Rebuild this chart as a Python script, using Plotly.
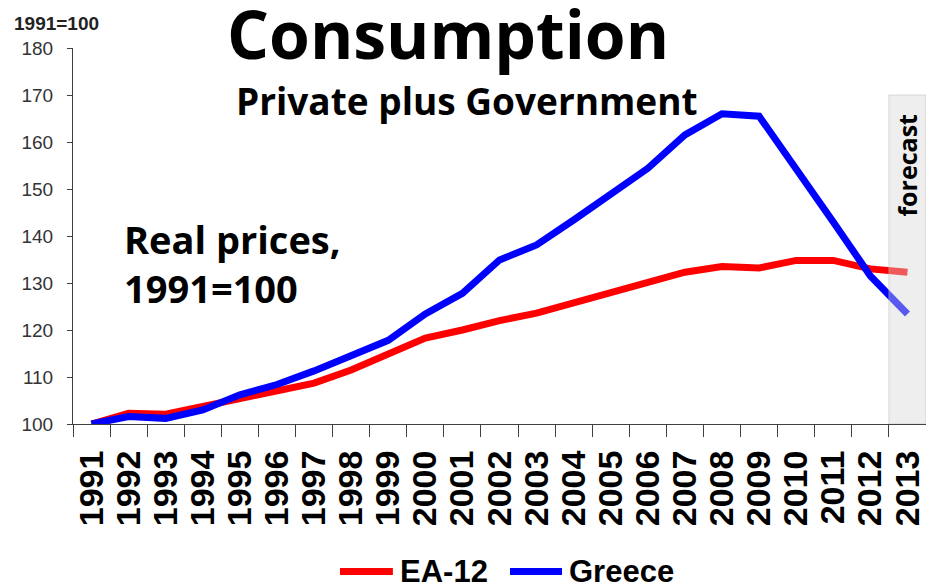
"""
plot.py — Consumption, private plus government (EA-12 vs Greece)
"""

import plotly.graph_objects as go

# ─────────────────────────────────────────────
# 数据
# ─────────────────────────────────────────────

years = [str(y) for y in range(1991, 2014)]

ea12 = [100.0, 102.3, 102.1, 103.7, 105.4, 106.9, 108.7, 111.5, 115.0, 118.3,
        120.0, 122.0, 123.6, 125.7, 127.8, 130.0, 132.3, 133.5, 133.2, 134.8,
        134.8, 133.0, 132.3]

greece = [100.0, 101.6, 101.2, 103.0, 106.2, 108.4, 111.3, 114.7, 117.8, 123.4,
          127.8, 134.9, 138.1, 143.4, 148.7, 154.4, 161.5, 166.0, 165.5, 154.5,
          143.0, 131.5, 123.4]

y_ticks = [100, 110, 120, 130, 140, 150, 160, 170, 180]

forecast_year = "2013"

series = [("EA-12", ea12, "#FF0000"), ("Greece", greece, "#0000FF")]

# ─────────────────────────────────────────────
# 图表
# ─────────────────────────────────────────────

BOLD_TXT = "Open Sans"
ARIAL = "Liberation Sans"

fig = go.Figure()

for name, vals, color in series:
    fig.add_trace(go.Scatter(
        x=years, y=vals, name=name, mode="lines",
        line=dict(color=color, width=7),
    ))

# forecast band (above lines, so they look faded)
idx = years.index(forecast_year)
fig.add_shape(
    type="rect", xref="x", yref="y",
    x0=idx - 0.5, x1=idx + 0.5, y0=100, y1=170,
    fillcolor="rgba(215,215,215,0.42)",
    line=dict(color="rgba(185,185,185,0.5)", width=1),
    layer="above",
)

fig.add_annotation(
    text="<b>forecast</b>", x=(idx + 0.5) / len(years), y=0.6885,
    xref="paper", yref="paper",
    textangle=-90, showarrow=False, xanchor="center", yanchor="middle",
    font=dict(family=BOLD_TXT, size=25, color="black"),
)

# titles
fig.add_annotation(
    text="<b>Consumption</b>", x=0.4396, y=1.04, xref="paper", yref="paper",
    xanchor="center", yanchor="middle", showarrow=False,
    font=dict(family=BOLD_TXT, size=66, color="black"),
)
fig.add_annotation(
    text="<b>Private plus Government</b>", x=0.4619, y=0.861,
    xref="paper", yref="paper", xanchor="center", yanchor="middle",
    showarrow=False,
    font=dict(family=BOLD_TXT, size=37, color="black"),
)
fig.add_annotation(
    text="<b>Real prices,</b><br><b>1991=100</b>", x=0.0574, y=0.428,
    xref="paper", yref="paper", xanchor="left", yanchor="middle",
    align="left", showarrow=False,
    font=dict(family=BOLD_TXT, size=38, color="black"),
)
fig.add_annotation(
    text="<b>1991=100</b>", x=-0.0715, y=1.066, xref="paper", yref="paper",
    xanchor="left", yanchor="middle", showarrow=False,
    font=dict(family=ARIAL, size=19, color="#222222"),
)

# legend drawn by hand (longer line samples than the built-in legend)
legend_pos = [(0.313, 0.375), (0.5123, 0.5733)]
for (name, _, color), (lx0, lx1) in zip(series, legend_pos):
    fig.add_shape(
        type="line", xref="paper", yref="paper",
        x0=lx0, x1=lx1, y0=-0.392, y1=-0.392,
        line=dict(color=color, width=7),
    )
    fig.add_annotation(
        text=f"<b>{name}</b>", x=lx1 + 0.006, y=-0.392,
        xref="paper", yref="paper", xanchor="left", yanchor="middle",
        showarrow=False,
        font=dict(family=ARIAL, size=31, color="black"),
    )

fig.update_layout(
    width=926, height=588,
    margin=dict(l=73, r=0, t=48, b=164),
    plot_bgcolor="white", paper_bgcolor="white",
    showlegend=False,
)

fig.update_xaxes(
    type="category", tickson="boundaries", automargin=False,
    tickmode="array", tickvals=years, ticktext=years,
    showgrid=False, showline=True, linecolor="#404040", linewidth=1,
    ticks="outside", ticklen=12, tickcolor="#404040",
    tickangle=-90, ticklabelstandoff=12,
    tickfont=dict(family=ARIAL, size=34, color="black", weight="bold"),
    range=[-0.5, len(years) - 0.5],
)
fig.update_yaxes(
    range=[100, 180], tickvals=y_ticks, automargin=False,
    showgrid=False, zeroline=False, showline=True, linecolor="#404040", linewidth=1,
    ticks="outside", ticklen=5, tickcolor="#404040", ticklabelstandoff=10,
    tickfont=dict(family=ARIAL, size=19, color="#333333"),
)

# page body has an 8px default margin; drop it so the figure fills the window
fig.write_html(
    "out.html",
    config={"displayModeBar": False},
    post_script="document.body.style.margin = '0';",
)
